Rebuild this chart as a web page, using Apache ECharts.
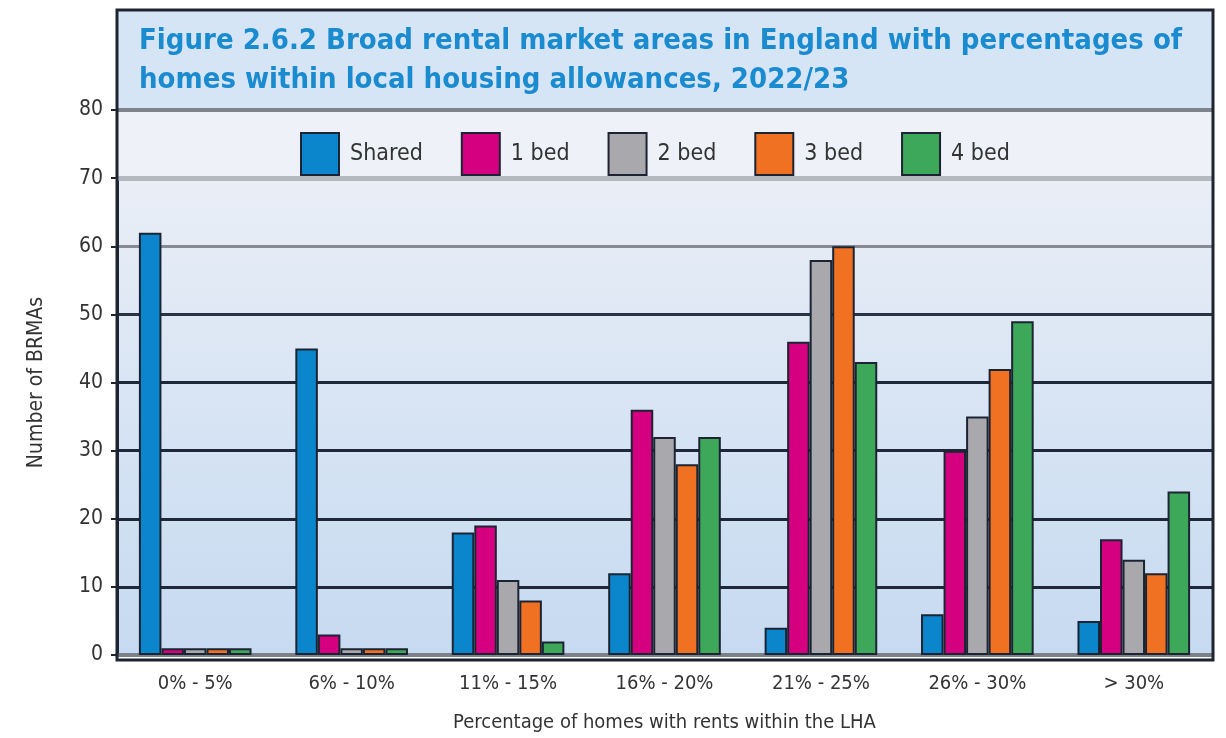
<!DOCTYPE html>
<html>
<head>
<meta charset="utf-8">
<script src="https://cdn.jsdelivr.net/npm/echarts@6/dist/echarts.min.js"></script>
<style>
  html, body { margin: 0; padding: 0; background: #fff; }
  #chart { width: 1226px; height: 738px; }
</style>
</head>
<body>
<div id="chart"></div>
<script>
// 类目 / 数据
const categories = ['0% - 5%', '6% - 10%', '11% - 15%', '16% - 20%', '21% - 25%', '26% - 30%', '> 30%'];
const shared = [62, 45, 18, 12, 4, 6, 5];
const bed1 = [1, 3, 19, 36, 46, 30, 17];
const bed2 = [1, 1, 11, 32, 58, 35, 14];
const bed3 = [1, 1, 8, 28, 60, 42, 12];
const bed4 = [1, 1, 2, 32, 43, 49, 24];
const yTicks = [0, 10, 20, 30, 40, 50, 60, 70, 80];

const font = "'DejaVu Sans Condensed', 'Liberation Sans Narrow', 'DejaVu Sans', sans-serif";

const chart = echarts.init(document.getElementById('chart'));

// 柱子样式
function bar(name, data, color) {
  return {
    name: name,
    type: 'bar',
    data: data,
    barGap: '0%',
    barCategoryGap: '28%',
    itemStyle: {
      color: color,
      borderColor: '#1c2433',
      borderWidth: 2
    }
  };
}

const series = [
  bar('Shared', shared, '#0b86cc'),
  bar('1 bed', bed1, '#d5007f'),
  bar('2 bed', bed2, '#a9a9ad'),
  bar('3 bed', bed3, '#f07121'),
  bar('4 bed', bed4, '#3ea85a')
];
// 图例背景带 (70-80)
series[0].markArea = {
  silent: true,
  itemStyle: { color: '#eef2f8' },
  data: [[{ yAxis: 70 }, { yAxis: 80 }]]
};
// 70 / 80 粗灰线
series[0].markLine = {
  silent: true,
  symbol: 'none',
  label: { show: false },
  data: [
    { yAxis: 70, lineStyle: { type: 'solid', color: '#b4b8bf', width: 5 } },
    { yAxis: 80, lineStyle: { type: 'solid', color: '#7e838c', width: 4 } }
  ]
};

const option = {
  animation: false,
  textStyle: { fontFamily: font },
  title: {
    text: 'Figure 2.6.2 Broad rental market areas in England with percentages of\nhomes within local housing allowances, 2022/23',
    left: 134,
    top: 17,
    textStyle: {
      color: '#1b8bd0',
      fontSize: 29,
      fontWeight: 'bold',
      fontFamily: font,
      lineHeight: 39
    }
  },
  graphic: [
    {
      type: 'rect',
      z: -1,
      shape: { x: 117, y: 10, width: 1096, height: 99 },
      style: { fill: '#d6e5f6' }
    },
    {
      type: 'rect',
      z: 50,
      shape: { x: 117, y: 10, width: 1096, height: 650 },
      style: { fill: null, stroke: '#1e2430', lineWidth: 3 }
    }
  ],
  legend: {
    top: 127,
    left: 295,
    icon: 'rect',
    itemWidth: 38,
    itemHeight: 42,
    itemGap: 38,
    textStyle: { fontSize: 23, color: '#333', fontFamily: font, padding: [0, 0, 0, 6] }
  },
  grid: {
    left: 117,
    right: 14,
    top: 110,
    bottom: 79,
    show: true,
    borderWidth: 0,
    backgroundColor: new echarts.graphic.LinearGradient(0, 0, 0, 1, [
      { offset: 0, color: '#eef1f7' },
      { offset: 1, color: '#c6daf1' }
    ])
  },
  xAxis: {
    type: 'category',
    data: categories,
    name: 'Percentage of homes with rents within the LHA',
    nameLocation: 'middle',
    nameGap: 58,
    nameTextStyle: { fontSize: 20, color: '#333' },
    axisLine: { lineStyle: { color: '#7b8089', width: 4 } },
    axisTick: { show: false },
    axisLabel: { fontSize: 20, color: '#333', margin: 19 }
  },
  yAxis: {
    type: 'value',
    min: yTicks[0],
    max: yTicks[yTicks.length - 1],
    interval: 10,
    name: 'Number of BRMAs',
    nameLocation: 'middle',
    nameGap: 70,
    nameTextStyle: { fontSize: 21, color: '#333' },
    axisLine: { show: true, lineStyle: { color: '#1e2430', width: 3 } },
    axisTick: { show: true, length: 6, lineStyle: { color: '#1e2430', width: 2 } },
    axisLabel: { fontSize: 21, color: '#333', margin: 14 },
    splitLine: {
      lineStyle: {
        width: 3,
        color: ['#7b8089', '#1e2838', '#1e2838', '#1e2838', '#1e2838', '#2a3344', '#858a94', '#b3b7be', '#7e838c']
      }
    }
  },
  series: series
};

chart.setOption(option);
window.onresize = () => chart.resize();
</script>
</body>
</html>
